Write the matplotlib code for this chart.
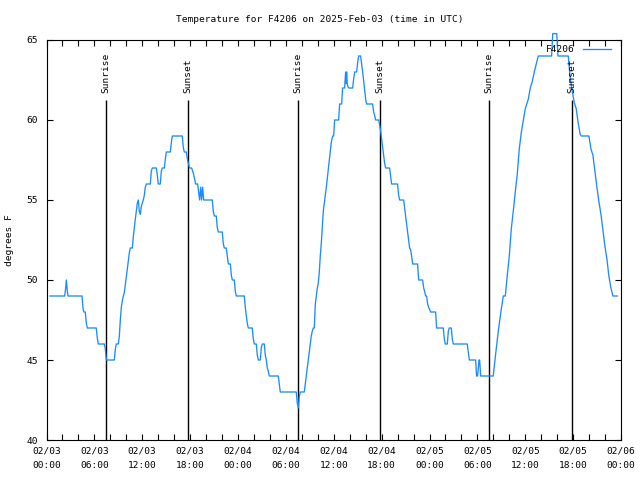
import matplotlib
matplotlib.use("Agg")
import matplotlib.pyplot as plt
import numpy as np

# hours since 2025-02-03 00:00 UTC
hours = [0.44, 2.28, 2.38, 2.49, 2.59, 2.69, 4.45, 4.58, 4.7, 4.86, 4.99, 5.12, 6.24, 6.36, 6.49, 7.25, 7.37, 7.5,
         8.5, 8.63, 8.75, 9.0, 9.13, 9.25, 9.38, 9.5, 9.63, 9.75, 9.88, 10.0, 10.13, 10.25, 10.38, 10.5, 10.76,
         10.88, 11.01, 11.13, 11.26, 11.38, 11.51, 11.63, 11.76, 11.88, 12.01, 12.13, 12.26, 12.38, 12.51, 13.01,
         13.13, 13.26, 13.76, 13.88, 14.01, 14.26, 14.39, 14.52, 14.77, 14.9, 15.02, 15.52, 15.65, 15.77, 17.02,
         17.14, 17.27, 17.52, 17.64, 17.77, 17.94, 18.19, 18.31, 18.44, 18.56, 18.69, 18.94, 19.07, 19.19, 19.32,
         19.44, 19.57, 19.7, 20.78, 20.9, 21.03, 21.28, 21.4, 21.53, 22.03, 22.15, 22.28, 22.53, 22.66, 22.79,
         23.04, 23.16, 23.29, 23.54, 23.66, 23.79, 24.79, 24.91, 25.04, 25.16, 25.29, 25.79, 25.92, 26.04, 26.29,
         26.42, 26.55, 26.8, 26.92, 27.05, 27.3, 27.42, 27.55, 27.67, 27.8, 27.92, 29.05, 29.17, 29.3, 31.3,
         31.43, 31.56, 31.68, 31.81, 32.31, 32.43, 32.56, 32.68, 32.81, 32.93, 33.06, 33.18, 33.31, 33.44, 33.56,
         33.69, 33.81, 33.94, 34.06, 34.19, 34.31, 34.44, 34.56, 34.69, 34.82, 34.94, 35.07, 35.2, 35.32, 35.45,
         35.57, 35.69, 35.86, 35.99, 36.11, 36.61, 36.74, 36.99, 37.11, 37.36, 37.49, 37.55, 37.61, 37.7, 37.86,
         38.37, 38.5, 38.62, 38.87, 39.0, 39.12, 39.37, 39.5, 39.62, 39.75, 39.87, 40.0, 40.12, 40.87, 41.0,
         41.12, 41.25, 41.63, 41.75, 41.88, 42.0, 42.13, 42.25, 42.38, 42.5, 43.0, 43.13, 43.25, 44.0, 44.13,
         44.26, 44.76, 44.88, 45.0, 45.13, 45.26, 45.38, 45.51, 45.63, 45.76, 45.89, 46.51, 46.64, 47.14, 47.27,
         47.39, 47.52, 47.64, 47.77, 47.89, 48.14, 48.77, 48.89, 49.73, 49.86, 49.98, 50.23, 50.36, 50.48, 50.73,
         50.86, 50.98, 52.73, 52.99, 53.78, 53.9, 54.03, 54.2, 54.28, 54.41, 55.99, 56.25, 56.62, 57.0, 57.25,
         57.5, 57.75, 58.0, 58.25, 58.5, 58.75, 59.0, 59.25, 59.5, 59.76, 60.0, 60.38, 60.63, 60.88, 61.13, 61.38,
         61.63, 63.3, 63.45, 63.95, 64.1, 65.39, 65.64, 65.89, 66.14, 66.39, 66.64, 66.89, 67.02, 67.98, 68.23,
         68.48, 68.73, 68.98, 69.23, 69.49, 69.74, 69.99, 70.24, 70.49, 70.74, 70.99, 71.53]
temps = [49, 49, 49.4, 50, 49.4, 49, 49, 48.2, 48, 48, 47.3, 47, 47, 46.4, 46, 46, 45.7, 45,
         45, 45.7, 46, 46, 46.5, 47.5, 48.3, 48.7, 49, 49.2, 49.7, 50.2, 50.7, 51.2, 51.7, 52, 52,
         52.7, 53.3, 53.8, 54.3, 54.8, 55, 54.3, 54.1, 54.6, 54.8, 55, 55.3, 55.8, 56, 56,
         56.8, 57, 57, 56.6, 56, 56, 56.8, 57, 57, 57.6, 58, 58, 58.6, 59, 59,
         58.3, 58, 58, 57.6, 57.3, 57, 57, 56.8, 56.6, 56.3, 56, 56, 55.5, 55, 55.8,
         55, 55.8, 55, 55, 54.3, 54, 54, 53.3, 53, 53, 52.3, 52, 52, 51.5, 51,
         51, 50.3, 50, 50, 49.3, 49, 49, 48.3, 47.8, 47.3, 47, 47, 46.3, 46, 46,
         45.3, 45, 45, 45.8, 46, 46, 45.3, 45, 44.5, 44.3, 44, 44, 43.5, 43, 43,
         42.3, 42, 42.7, 43, 43, 43.5, 44, 44.5, 45, 45.5, 46, 46.5, 46.8, 47, 47,
         48.5, 49, 49.5, 49.8, 50.5, 51.5, 52.3, 53.3, 54.3, 54.8, 55.3, 55.8, 56.4, 57, 57.6,
         58.1, 58.6, 59, 59, 60, 60, 61, 61, 62, 62, 63, 62.3, 63, 62.2, 62,
         62, 62.6, 63, 63, 63.6, 64, 64, 63.5, 63, 62.4, 61.8, 61.3, 61, 61, 60.5,
         60.3, 60, 60, 59.7, 59.3, 58.8, 58.3, 57.8, 57.3, 57, 57, 56.5, 56, 56, 55.3,
         55, 55, 54.5, 54, 53.5, 53, 52.5, 52, 51.9, 51.5, 51, 51, 50, 50, 49.5,
         49.3, 49, 49, 48.5, 48.3, 48, 48, 47, 47, 46.3, 46, 46, 46.8, 47, 47,
         46.3, 46, 46, 45, 45, 44, 44, 45, 45, 44, 44, 45.2, 46.8, 48.2, 49,
         49, 50.3, 51.5, 53.2, 54.3, 55.5, 56.6, 58.2, 59.2, 60, 60.7, 61.3, 62, 62.4, 63, 63.5,
         64, 64, 65.4, 65.4, 64, 64, 62.6, 61.8, 61.1, 60.7, 59.8, 59.1, 59, 59, 58.2,
         57.8, 56.8, 55.8, 54.9, 54.1, 53.1, 52.1, 51.3, 50.2, 49.5, 49, 49]

sunrise = [7.49, 31.55, 55.5]
sunset = [17.77, 41.83, 65.9]

tick_hours = list(range(0, 73, 6))
tick_labels = ["02/03\n00:00", "02/03\n06:00", "02/03\n12:00", "02/03\n18:00",
               "02/04\n00:00", "02/04\n06:00", "02/04\n12:00", "02/04\n18:00",
               "02/05\n00:00", "02/05\n06:00", "02/05\n12:00", "02/05\n18:00",
               "02/06\n00:00"]
y_ticks = [40, 45, 50, 55, 60, 65]

FONT = "DejaVu Sans Mono"
FS = 6.8
plt.rcParams['font.family'] = FONT
plt.rcParams['font.size'] = FS

W, H = 640, 480
fig = plt.figure(figsize=(6.4, 4.8), dpi=100)
left, right, top, bottom = 46.5, 621, 40, 440
ax = fig.add_axes([left / W, 1 - bottom / H, (right - left) / W, (bottom - top) / H])

ax.plot(hours, temps, color='#1a8cff', lw=0.95, label='F4206', clip_on=False, zorder=3)

ax.vlines(sunrise + sunset, 40, 61.25, color='black', lw=1.0, zorder=2)
for t in sunrise:
    ax.text(t, 61.7, "Sunrise", rotation=90, ha='center', va='bottom', fontsize=FS)
for t in sunset:
    ax.text(t, 61.7, "Sunset", rotation=90, ha='center', va='bottom', fontsize=FS)

ax.set_xlim(0, 72)
ax.set_ylim(40, 65)
ax.set_xticks(tick_hours)
ax.set_xticklabels(tick_labels, fontsize=FS, linespacing=1.75)
ax.set_xticks(list(range(0, 73, 2)), minor=True)
ax.set_yticks(y_ticks)
ax.set_yticklabels([str(v) for v in y_ticks], fontsize=FS)
ax.tick_params(which='both', direction='in', top=True, right=True, length=4, width=0.8)
ax.tick_params(axis='x', which='major', pad=5)
ax.tick_params(axis='y', which='major', pad=6)
for s in ax.spines.values():
    s.set_linewidth(0.8)

fig.text(0.5, 1 - 19 / H, "Temperature for F4206 on 2025-Feb-03 (time in UTC)",
         ha='center', va='center', fontsize=FS)
fig.text(10 / W, 1 - 240 / H, "degrees F", rotation=90, ha='center', va='center', fontsize=FS)

ax.legend(loc='center right', bbox_to_anchor=(611 / W, 1 - 50 / H), bbox_transform=fig.transFigure,
          frameon=False, markerfirst=False, borderpad=0, borderaxespad=0, handlelength=3.0,
          handletextpad=0.8, fontsize=FS)

fig.savefig("out.png", dpi=100)
